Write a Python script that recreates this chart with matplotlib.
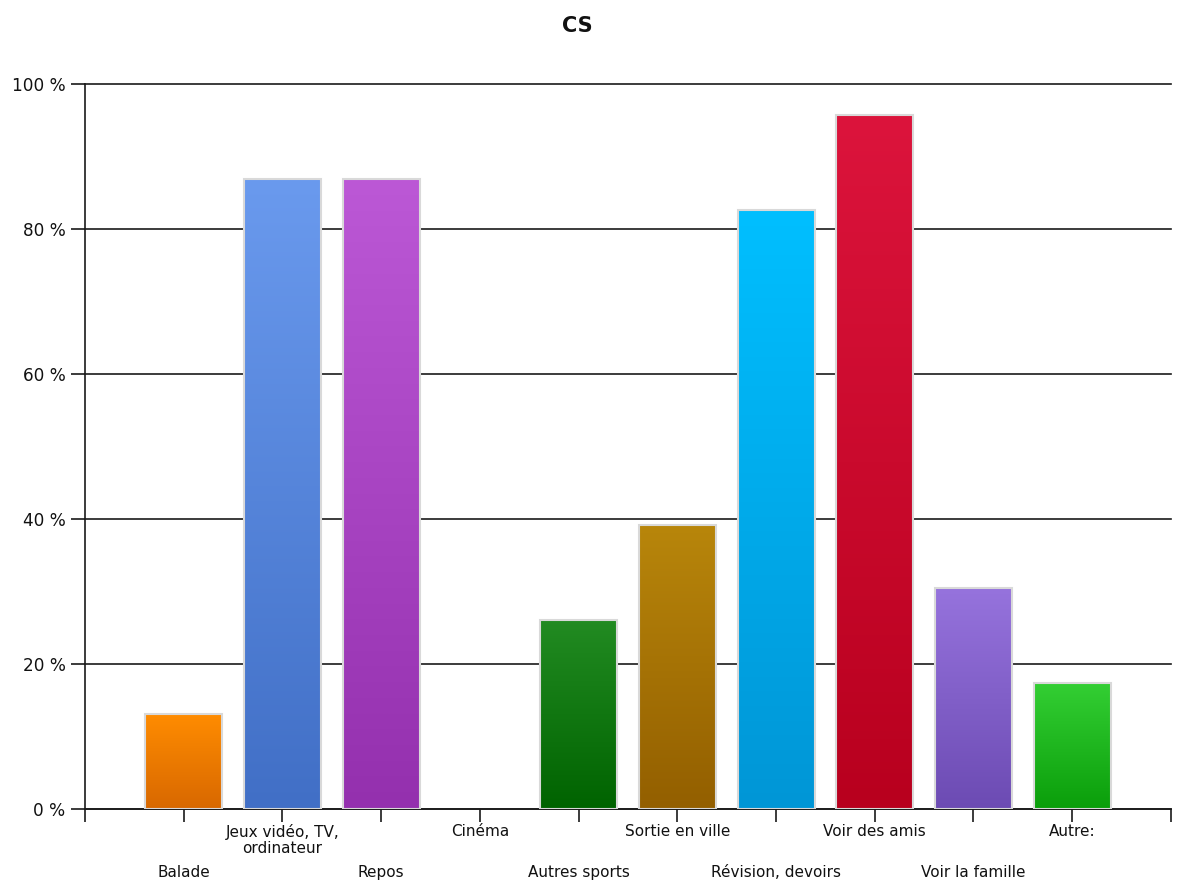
import numpy as np
import matplotlib
matplotlib.use("Agg")
import matplotlib.pyplot as plt
from matplotlib.colors import LinearSegmentedColormap

plt.rcParams['font.family'] = ['DejaVu Sans']

# Survey answers (share of respondents, in %)
categories = ["Balade", "Jeux vidéo, TV,\nordinateur", "Repos", "Cinéma",
              "Autres sports", "Sortie en ville", "Révision, devoirs",
              "Voir des amis", "Voir la famille", "Autre:"]
values = [13.04, 86.96, 86.96, 0.0, 26.09, 39.13, 82.61, 95.65, 30.43, 17.39]

# gradient colours per bar: (top, bottom)
bar_colors = [("#FF8C00", "#D86800"), ("#6A9AEE", "#416FC6"),
              ("#BC58D6", "#9430AE"), ("#888888", "#666666"),
              ("#228B22", "#006300"), ("#B8860B", "#935F00"),
              ("#00BFFF", "#0096D6"), ("#DC143C", "#B8001E"),
              ("#9673DD", "#6C4BB3"), ("#34CF34", "#0A9E0A")]

yticks = [0, 20, 40, 60, 80, 100]

fig = plt.figure(figsize=(11.78, 8.81), dpi=100)
ax = fig.add_axes([0.0722, 0.0817, 0.9218, 0.823])

x = np.arange(1, len(categories) + 1)
width = 0.78

bars = ax.bar(x, values, width=width, facecolor="none",
              edgecolor="#D9D9D9", linewidth=1.5, zorder=3)

grad = np.linspace(0, 1, 256).reshape(-1, 1)
for rect, (top, bottom) in zip(bars, bar_colors):
    h = rect.get_height()
    if h <= 0:
        rect.set_visible(False)
        continue
    cmap = LinearSegmentedColormap.from_list("g", [bottom, top])
    x0 = rect.get_x()
    im = ax.imshow(grad, cmap=cmap, origin="lower", aspect="auto",
                   extent=(x0, x0 + rect.get_width(), 0, h),
                   interpolation="bilinear", zorder=2)
    im.set_clip_path(rect)

ax.set_xlim(0, len(categories) + 1)
ax.set_ylim(0, 100)

# horizontal grid
ax.set_yticks(yticks)
ax.set_yticklabels([f"{t} %" for t in yticks], fontsize=12.2, color="#111111")
ax.yaxis.grid(True, color="#1a1a1a", linewidth=1.2, zorder=1)
for gl in ax.get_ygridlines():
    gl.set_clip_on(False)
ax.set_axisbelow(True)

ax.set_xticks(np.arange(0, len(categories) + 2))
ax.set_xticklabels([])
ax.tick_params(axis="y", length=10, width=1.2, color="#1a1a1a", pad=4)
ax.tick_params(axis="x", length=9, width=1.2, color="#1a1a1a")

# staggered category labels
for i, (xi, lab) in enumerate(zip(x, categories)):
    yoff = -0.021 if i % 2 == 1 else -0.077
    ax.text(xi, yoff, lab, transform=ax.get_xaxis_transform(),
            ha="center", va="top", fontsize=11, color="#111111",
            linespacing=1.05)

for s in ["top", "right"]:
    ax.spines[s].set_visible(False)
for s in ["left", "bottom"]:
    ax.spines[s].set_color("#1a1a1a")
    ax.spines[s].set_linewidth(1.2)

fig.text(0.49, 0.971, "CS", ha="center", va="center",
         fontsize=15, fontweight="bold", color="#111111")

fig.savefig("out.png", dpi=100, facecolor="white")
